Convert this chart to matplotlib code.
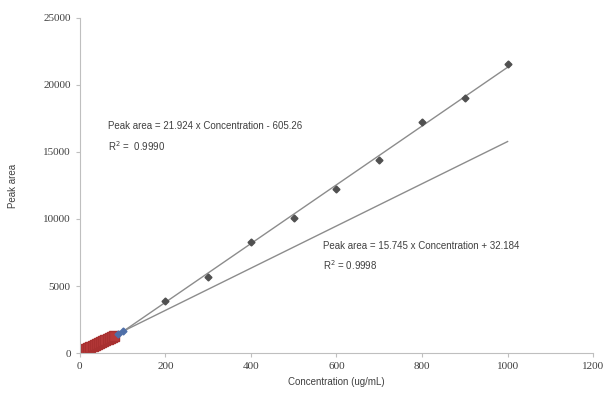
import matplotlib.pyplot as plt

# high range standards (ug/mL) and measured peak areas
conc_high = [200, 300, 400, 500, 600, 700, 800, 900, 1000]
area_high = [3880, 5680, 8300, 10090, 12260, 14430, 17200, 18990, 21530]

# low range standards
conc_low = [0, 2, 5, 8, 10, 15, 20, 25, 30, 35, 40, 45, 50, 55, 60, 65, 70, 75, 80]
area_low = [0, 60, 110, 160, 190, 270, 350, 420, 510, 570, 660, 720, 810, 880, 960, 1040, 1120, 1200, 1290]
conc_mid = [90, 100]
area_mid = [1450, 1610]

# fitted lines
slope_high, icpt_high = 21.924, -605.26
slope_low, icpt_low = 15.745, 32.184
fit_x_high = [100, 1000]
fit_x_low = [0, 1000]

fig = plt.figure(figsize=(6.09, 3.98), dpi=100)
ax = fig.add_axes([0.131, 0.113, 0.843, 0.842])

ax.plot(fit_x_low, [slope_low * x + icpt_low for x in fit_x_low], color='#8c8c8c', lw=1)
ax.plot(fit_x_high, [slope_high * x + icpt_high for x in fit_x_high], color='#8c8c8c', lw=1)
ax.plot(conc_low, area_low, 's', color='#b83a3a', ms=6.5, mec='#a83030')
ax.plot(conc_mid, area_mid, 'D', color='#4f6fa8', ms=3.5)
ax.plot(conc_high, area_high, 'D', color='#505050', ms=3.5)

ax.text(66, 16900, 'Peak area = 21.924 x Concentration - 605.26', fontsize=7,
        family='Liberation Sans', color='#404040', va='center')
ax.text(66, 15450, 'R$^2$ =  0.9990', fontsize=7, family='Liberation Sans',
        color='#404040', va='center')
ax.text(568, 8000, 'Peak area = 15.745 x Concentration + 32.184', fontsize=7,
        family='Liberation Sans', color='#404040', va='center')
ax.text(568, 6580, 'R$^2$ = 0.9998', fontsize=7, family='Liberation Sans',
        color='#404040', va='center')

ax.set_xlim(0, 1200)
ax.set_ylim(0, 25000)
ax.set_xticks(range(0, 1201, 200))
ax.set_yticks(range(0, 25001, 5000))
for lab in ax.get_xticklabels() + ax.get_yticklabels():
    lab.set_family('Liberation Serif')
    lab.set_fontsize(8)
    lab.set_color('#404040')
ax.tick_params(length=3, color='#bfbfbf', width=0.8)

ax.spines['top'].set_visible(False)
ax.spines['right'].set_visible(False)
ax.spines['left'].set_color('#bfbfbf')
ax.spines['bottom'].set_color('#bfbfbf')

ax.set_xlabel('Concentration (ug/mL)', fontsize=7, family='Liberation Sans', color='#404040')
ax.set_ylabel('Peak area', fontsize=7, family='Liberation Sans', color='#404040', labelpad=18)

fig.savefig('out.png')
